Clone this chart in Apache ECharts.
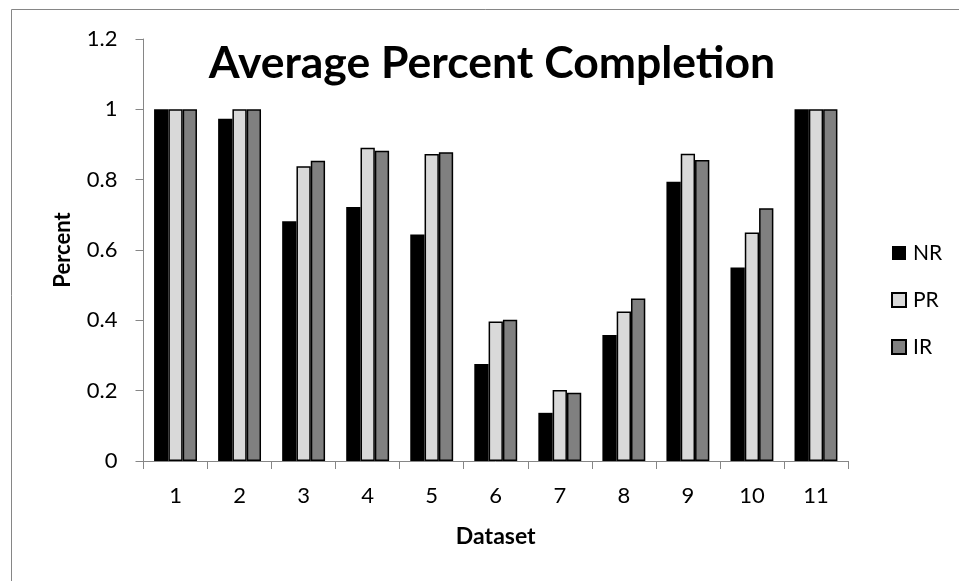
<!DOCTYPE html>
<html><head><meta charset="utf-8">
<script src="https://cdn.jsdelivr.net/npm/echarts@6/dist/echarts.min.js"></script>
<style>html,body{margin:0;padding:0;background:#fff}#c{width:959px;height:581px}</style>
</head><body><div id="c"></div>
<script>
const categories = ['1','2','3','4','5','6','7','8','9','10','11'];
const seriesNames = ['NR','PR','IR'];
const nrValues = [1.0, 0.973, 0.682, 0.722, 0.644, 0.276, 0.137, 0.358, 0.794, 0.550, 1.0];
const prValues = [1.0, 1.0, 0.838, 0.891, 0.873, 0.397, 0.202, 0.425, 0.874, 0.650, 1.0];
const irValues = [1.0, 1.0, 0.854, 0.882, 0.878, 0.402, 0.194, 0.462, 0.856, 0.719, 1.0];
const yTicks = [0, 0.2, 0.4, 0.6, 0.8, 1, 1.2];

const FONT = 'Lato, "Open Sans", sans-serif';
const chart = echarts.init(document.getElementById('c'), null, {renderer:'canvas'});
const colors = ['#000000', '#d9d9d9', '#808080'];
const vals = [nrValues, prValues, irValues];
chart.setOption({
  animation: false,
  backgroundColor: '#ffffff',
  graphic: [{type:'rect', shape:{x:11.5, y:9.5, width:1200, height:1200}, style:{fill:'none', stroke:'#868686', lineWidth:1}}],
  title: {text:'Average Percent Completion', left: 487, top: 36, textAlign:'center',
    textStyle:{fontFamily:FONT, fontWeight:'bold', fontSize:44.5, color:'#000'}},
  legend: {orient:'vertical', left: 891, top: 242.5, padding:0, itemWidth:14, itemHeight:14, itemGap:26,
    icon:'rect',
    data: seriesNames, textStyle:{fontFamily:FONT, fontSize:21, color:'#000', padding:[0,0,0,2]}},
  grid: {left:143.5, right: 959-848, top:39, bottom: 581-461, containLabel:false},
  xAxis: {type:'category', data: categories,
    name:'Dataset', nameLocation:'middle', nameGap: 64,
    nameTextStyle:{fontFamily:FONT, fontWeight:'bold', fontSize:23, color:'#000'},
    axisLine:{lineStyle:{color:'#868686', width:1}},
    axisTick:{show:true, length:8, lineStyle:{color:'#868686'}},
    axisLabel:{fontFamily:FONT, fontSize:22, color:'#000', margin:24}},
  yAxis: {type:'value', min:0, max:1.2, interval:0.2,
    name:'Percent', nameLocation:'middle', nameGap: 70,
    nameTextStyle:{fontFamily:FONT, fontWeight:'bold', fontSize:22, color:'#000'},
    axisLine:{show:true, lineStyle:{color:'#868686', width:1}},
    axisTick:{show:true, length:8, lineStyle:{color:'#868686'}},
    splitLine:{show:false},
    axisLabel:{fontFamily:FONT, fontSize:22, color:'#000', margin:26,
      formatter: v => { const t = yTicks.find(x => Math.abs(x - v) < 1e-9); return t === undefined ? '' : String(t); }}},
  series: seriesNames.map((n, i) => ({
    name: n, type:'bar', data: vals[i], barWidth: 14.3, barGap:'0%',
    itemStyle:{color: colors[i], borderColor:'#000', borderWidth: i === 0 ? 0 : 1.5}
  }))
});
</script></body></html>
